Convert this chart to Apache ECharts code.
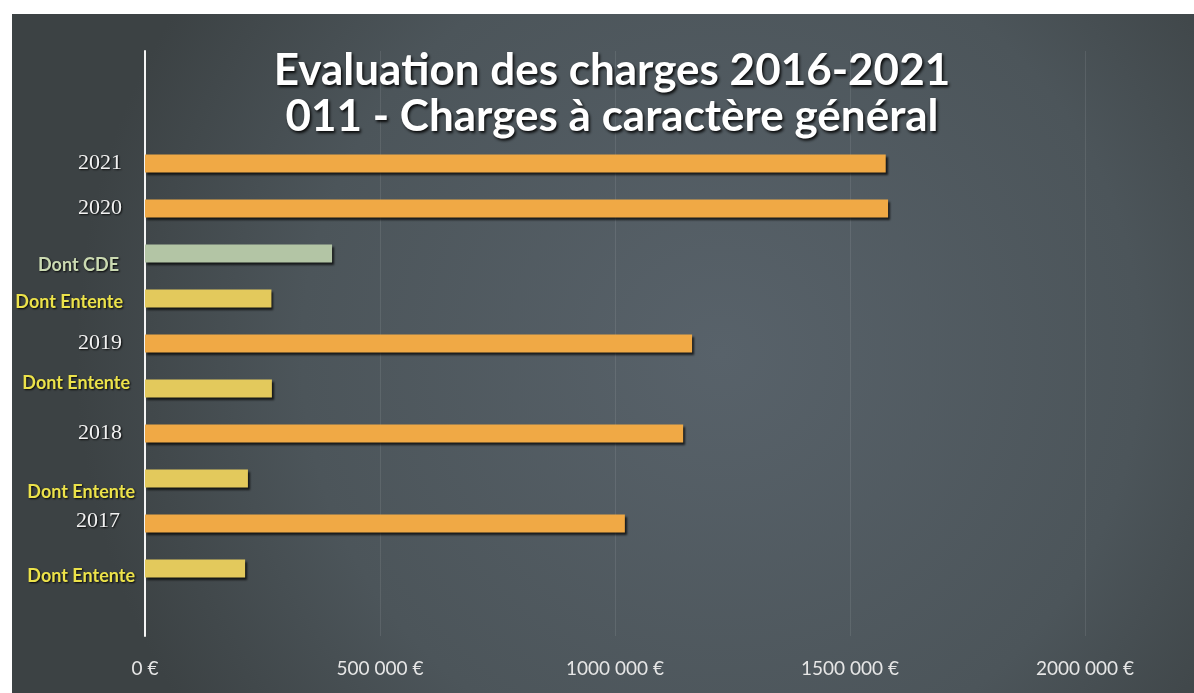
<!DOCTYPE html>
<html>
<head>
<meta charset="utf-8">
<script src="https://cdn.jsdelivr.net/npm/echarts@6/dist/echarts.min.js"></script>
<style>
  html, body { margin: 0; padding: 0; background: #ffffff; }
  #chart { width: 1194px; height: 693px; }
</style>
</head>
<body>
<div id="chart"></div>
<script>
// ---- data ----
const categories = ['', '', '2021', '2020', 'Dont CDE', 'Dont Entente', '2019', 'Dont Entente', '2018', 'Dont Entente', '2017', 'Dont Entente', ''];
const kinds = ['', '', 'year', 'year', 'cde', 'entente', 'year', 'entente', 'year', 'entente', 'year', 'entente', ''];
const values = [null, null, 1576000, 1581000, 398000, 269000, 1164000, 270000, 1145000, 219000, 1021000, 213000, null];
const tickLabels = ['0 €', '500 000 €', '1000 000 €', '1500 000 €', '2000 000 €'];
const titleLines = ['Evaluation des charges 2016-2021', '011 - Charges à caractère général'];

// ---- styles ----
const barColors = { year: '#f0a945', cde: '#b3c5a5', entente: '#e3c95c' };
// label nudges (dy: vertical shift, pr: extra right padding) to mimic the hand-placed labels
const labelNudge = [
  {dy:0,pr:0},{dy:0,pr:0},
  {dy:0,pr:13},{dy:0,pr:13},{dy:12,pr:16},{dy:4,pr:12},
  {dy:0,pr:13},{dy:-5,pr:5},{dy:0,pr:13},{dy:14,pr:0},
  {dy:-2,pr:15},{dy:8,pr:0},{dy:0,pr:0}
];

const rich = {};
categories.forEach((c, i) => {
  const k = kinds[i];
  const n = labelNudge[i];
  const base = k === 'year'
    ? { fontFamily: 'Liberation Serif', fontSize: 22, color: '#f2f2f2' }
    : k === 'cde'
      ? { fontFamily: 'Lato', fontWeight: 'bold', fontSize: 18, color: '#cbdab2' }
      : { fontFamily: 'Lato', fontWeight: 'bold', fontSize: 18, color: '#ece24a' };
  const pt = n.dy > 0 ? 2 * n.dy : 0;
  const pb = n.dy < 0 ? -2 * n.dy : 0;
  rich['r' + i] = Object.assign({}, base, {
    padding: [pt, n.pr, pb, 0],
    textShadowColor: 'rgba(0,0,0,0.9)',
    textShadowBlur: 2,
    textShadowOffsetX: 1,
    textShadowOffsetY: 1
  });
});

const chart = echarts.init(document.getElementById('chart'), null, { renderer: 'canvas' });

const option = {
  backgroundColor: '#ffffff',
  animation: false,
  graphic: [{
    type: 'rect',
    z: -100,
    silent: true,
    shape: { x: 12, y: 14, width: 1182, height: 679 },
    style: {
      fill: new echarts.graphic.RadialGradient(0.6, 0.5, 0.95, [
        { offset: 0, color: '#58626a' },
        { offset: 0.65, color: '#4c555a' },
        { offset: 1, color: '#3c4244' }
      ])
    }
  }],
  title: {
    text: titleLines.join('\n'),
    left: 607,
    textAlign: 'center',
    top: 43,
    textStyle: {
      fontFamily: 'Lato',
      fontWeight: 'bold',
      fontSize: 44,
      lineHeight: 46,
      color: '#ffffff',
      textShadowColor: 'rgba(0,0,0,0.9)',
      textShadowBlur: 3,
      textShadowOffsetX: 1.5,
      textShadowOffsetY: 1.5
    }
  },
  grid: { left: 145, right: 109, top: 51, bottom: 57, containLabel: false },
  xAxis: {
    type: 'value',
    min: 0,
    max: 2000000,
    interval: 500000,
    axisLine: { show: false },
    axisTick: { show: false },
    splitLine: { show: true, lineStyle: { color: 'rgba(255,255,255,0.09)', width: 1 } },
    axisLabel: {
      margin: 23,
      fontFamily: 'Lato',
      fontSize: 19,
      color: '#e6e6e6',
      formatter: v => tickLabels[Math.round(v / 500000)]
    }
  },
  yAxis: {
    type: 'category',
    inverse: true,
    data: categories,
    axisLine: { show: true, lineStyle: { color: '#f4f4f4', width: 2 } },
    axisTick: { show: false },
    splitLine: { show: false },
    axisLabel: {
      margin: 10,
      interval: 0,
      formatter: (v, i) => v ? '{r' + i + '|' + v + '}' : '',
      rich: rich
    }
  },
  series: [{
    type: 'bar',
    barWidth: 18,
    data: values.map((v, i) => ({
      value: v,
      itemStyle: { color: barColors[kinds[i]] || '#f0a945' }
    })),
    itemStyle: {
      shadowColor: 'rgba(0,0,0,0.7)',
      shadowBlur: 2,
      shadowOffsetX: 2,
      shadowOffsetY: 2
    }
  }]
};

chart.setOption(option);
</script>
</body>
</html>
